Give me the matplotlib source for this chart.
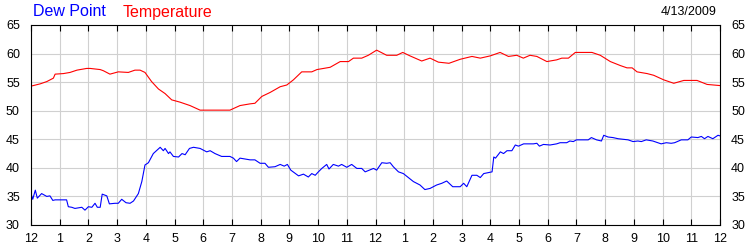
import matplotlib.pyplot as plt

plt.rcParams['font.family'] = ['Liberation Sans', 'DejaVu Sans']

# Hours since midnight and readings (deg F)
temp_hours = [0.0, 0.32, 0.55, 0.78, 0.84, 1.13, 1.36, 1.6, 1.94, 2.06, 2.41, 2.52,
              2.75, 3.04, 3.39, 3.62, 3.8, 3.97, 4.2, 4.44, 4.67, 4.9, 5.19, 5.54,
              5.89, 6.93, 7.28, 7.63, 7.8, 8.04, 8.33, 8.68, 8.91, 9.14, 9.43, 9.78,
              9.96, 10.42, 10.77, 11.06, 11.23, 11.52, 11.75, 12.04, 12.39, 12.74,
              12.95, 13.2, 13.61, 13.9, 14.19, 14.56, 14.95, 15.36, 15.65, 16.0,
              16.34, 16.63, 16.92, 17.15, 17.38, 17.62, 17.97, 18.31, 18.49, 18.72,
              18.96, 19.19, 19.54, 19.83, 20.18, 20.53, 20.76, 20.94, 21.11, 21.46,
              21.69, 22.04, 22.39, 22.74, 23.2, 23.55, 24.0]
temp_values = [54.3, 54.7, 55.1, 55.7, 56.4, 56.5, 56.7, 57.1, 57.4, 57.4, 57.2, 57.0,
               56.4, 56.8, 56.7, 57.1, 57.1, 56.7, 55.1, 53.8, 53.0, 51.9, 51.5, 50.9,
               50.1, 50.1, 50.9, 51.2, 51.3, 52.5, 53.2, 54.2, 54.5, 55.4, 56.8, 56.8,
               57.2, 57.6, 58.6, 58.6, 59.2, 59.2, 59.7, 60.6, 59.7, 59.7,
               60.2, 59.6, 58.7, 59.2, 58.5, 58.3, 59.0, 59.5, 59.2, 59.6,
               60.2, 59.5, 59.7, 59.2, 59.7, 59.5, 58.6, 58.9, 59.2, 59.2,
               60.2, 60.2, 60.2, 59.7, 58.6, 57.9, 57.5, 57.5, 56.8, 56.5,
               56.2, 55.4, 54.8, 55.3, 55.3, 54.6, 54.4]

dew_hours = [0.0, 0.06, 0.15, 0.22, 0.37, 0.55, 0.66, 0.76, 0.84, 1.24, 1.3, 1.42,
             1.53, 1.77, 1.88, 2.0, 2.12, 2.23, 2.31, 2.41, 2.48, 2.64, 2.73, 2.93,
             3.04, 3.16, 3.31, 3.45, 3.57, 3.74, 3.86, 3.97, 4.09, 4.26, 4.5, 4.61,
             4.67, 4.79, 4.84, 4.96, 5.14, 5.26, 5.37, 5.52, 5.66, 5.89, 6.12, 6.24,
             6.41, 6.64, 6.93, 7.05, 7.16, 7.28, 7.63, 7.8, 7.98, 8.15, 8.27, 8.5,
             8.68, 8.82, 8.93, 9.05, 9.32, 9.49, 9.66, 9.78, 9.9, 10.01, 10.13, 10.3,
             10.38, 10.53, 10.71, 10.82, 11.0, 11.17, 11.35, 11.52, 11.64, 11.93,
             12.04, 12.22, 12.39, 12.51, 12.62, 12.8, 12.97, 13.32, 13.55, 13.72,
             13.9, 14.13, 14.31, 14.48, 14.69, 14.95, 15.07, 15.18, 15.36, 15.53,
             15.65, 15.77, 16.06, 16.12, 16.18, 16.35, 16.46, 16.58, 16.75, 16.87,
             16.98, 17.16, 17.5, 17.62, 17.71, 17.85, 18.08, 18.31, 18.43, 18.66,
             18.77, 18.89, 19.0, 19.41, 19.52, 19.7, 19.87, 19.95, 20.1, 20.27,
             20.45, 20.62, 20.8, 20.97, 21.14, 21.26, 21.43, 21.66, 21.84, 21.95,
             22.13, 22.3, 22.42, 22.65, 22.88, 23.0, 23.23, 23.35, 23.46, 23.58,
             23.75, 23.93, 24.0]
dew_values = [35.5, 34.5, 36.1, 34.7, 35.5, 35.0, 35.1, 34.3, 34.4, 34.4, 33.2, 33.1,
              32.9, 33.1, 32.6, 33.2, 33.1, 33.8, 33.1, 33.1, 35.4, 35.1, 33.7, 33.8,
              33.8, 34.5, 33.9, 33.8, 34.2, 35.5, 37.6, 40.5, 40.9, 42.5, 43.6, 43.0,
              43.4, 42.5, 42.8, 42.0, 41.9, 42.5, 42.3, 43.4, 43.6, 43.4, 42.8, 43.0,
              42.5, 42.0, 42.0, 41.7, 41.1, 41.7, 41.4, 41.4, 40.8, 40.8, 40.1, 40.2,
              40.6, 40.3, 40.6, 39.6, 38.6, 38.9, 38.4, 39.0, 38.7, 39.3, 39.9, 40.6,
              39.8, 40.6, 40.3, 40.6, 40.1, 40.6, 39.9, 39.9, 39.3, 39.9,
              39.6, 40.9, 40.8, 40.9, 40.2, 39.3, 39.0, 37.6, 37.0, 36.2,
              36.4, 37.0, 37.3, 37.7, 36.7, 36.7, 37.3, 36.7, 38.7, 38.7,
              38.3, 39.0, 39.3, 41.9, 41.7, 42.8, 42.5, 43.0, 43.0, 44.0,
              43.8, 44.2, 44.2, 44.3, 43.8, 44.1, 44.0, 44.2, 44.4, 44.4,
              44.7, 44.6, 44.9, 44.9, 45.3, 44.9, 44.7, 45.7, 45.4, 45.3,
              45.1, 45.0, 44.9, 44.6, 44.7, 44.6, 44.9, 44.7, 44.4, 44.2,
              44.4, 44.3, 44.4, 44.9, 44.9, 45.4, 45.3, 45.5, 45.1, 45.5,
              45.1, 45.7, 45.6]

hour_labels = ['12', '1', '2', '3', '4', '5', '6', '7', '8', '9', '10', '11',
               '12', '1', '2', '3', '4', '5', '6', '7', '8', '9', '10', '11', '12']
y_ticks = [30, 35, 40, 45, 50, 55, 60, 65]

fig = plt.figure(figsize=(7.5, 2.5), dpi=100)
ax = fig.add_axes([31 / 750, 0.1, 689 / 750, 0.8])

ax.plot(dew_hours, dew_values, color='#0000ff', linewidth=0.8)
ax.plot(temp_hours, temp_values, color='#ff0000', linewidth=0.8)

ax.set_xlim(0, 24)
ax.set_ylim(30, 65)
ax.set_xticks(range(25))
ax.set_xticklabels(hour_labels)
ax.set_yticks(y_ticks)
ax.grid(True, color='#d0d0d0', linewidth=0.8)
ax.set_axisbelow(True)
ax.tick_params(axis='x', direction='in', length=4, width=0.8, top=True,
               labelsize=9, pad=6)
ax.tick_params(axis='y', length=0, labelsize=9, pad=8, right=False, labelright=True)
for s in ax.spines.values():
    s.set_linewidth(0.8)

fig.text(33 / 750, 1 - 12 / 250, 'Dew Point', color='#0000ff', fontsize=11.5, va='center')
fig.text(123 / 750, 1 - 12 / 250, 'Temperature', color='#ff0000', fontsize=11.5, va='center')
fig.text(717 / 750, 1 - 12 / 250, '4/13/2009', color='black', fontsize=9, ha='right', va='center')

fig.savefig('out.png', dpi=100)
